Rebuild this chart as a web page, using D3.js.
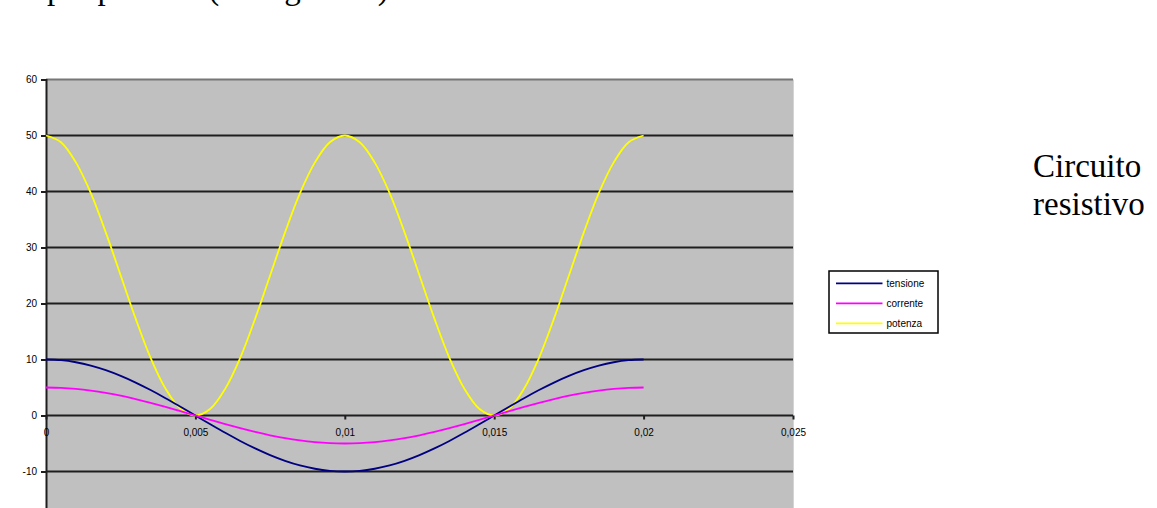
<!DOCTYPE html>
<html>
<head>
<meta charset="utf-8">
<script src="https://cdn.jsdelivr.net/npm/d3@7"></script>
<style>
  html, body { margin: 0; padding: 0; background: #fff; }
  svg { display: block; }
</style>
</head>
<body>
<svg id="chart" width="1157" height="508"></svg>
<script>
// ---- data ----
const tempo = [0, 0.0005, 0.001, 0.0015, 0.002, 0.0025, 0.003, 0.0035, 0.004, 0.0045,
  0.005, 0.0055, 0.006, 0.0065, 0.007, 0.0075, 0.008, 0.0085, 0.009, 0.0095,
  0.01, 0.0105, 0.011, 0.0115, 0.012, 0.0125, 0.013, 0.0135, 0.014, 0.0145,
  0.015, 0.0155, 0.016, 0.0165, 0.017, 0.0175, 0.018, 0.0185, 0.019, 0.0195, 0.02];
const tensione = [10, 9.88, 9.51, 8.91, 8.09, 7.07, 5.88, 4.54, 3.09, 1.56,
  0, -1.56, -3.09, -4.54, -5.88, -7.07, -8.09, -8.91, -9.51, -9.88,
  -10, -9.88, -9.51, -8.91, -8.09, -7.07, -5.88, -4.54, -3.09, -1.56,
  0, 1.56, 3.09, 4.54, 5.88, 7.07, 8.09, 8.91, 9.51, 9.88, 10];
const corrente = [5, 4.94, 4.76, 4.46, 4.05, 3.54, 2.94, 2.27, 1.55, 0.78,
  0, -0.78, -1.55, -2.27, -2.94, -3.54, -4.05, -4.46, -4.76, -4.94,
  -5, -4.94, -4.76, -4.46, -4.05, -3.54, -2.94, -2.27, -1.55, -0.78,
  0, 0.78, 1.55, 2.27, 2.94, 3.54, 4.05, 4.46, 4.76, 4.94, 5];
const potenza = [50, 48.8, 45.2, 39.7, 32.7, 25, 17.3, 10.3, 4.8, 1.2,
  0, 1.2, 4.8, 10.3, 17.3, 25, 32.7, 39.7, 45.2, 48.8,
  50, 48.8, 45.2, 39.7, 32.7, 25, 17.3, 10.3, 4.8, 1.2,
  0, 1.2, 4.8, 10.3, 17.3, 25, 32.7, 39.7, 45.2, 48.8, 50];
const seriesNames = ["tensione", "corrente", "potenza"];
const seriesColors = ["#000080", "#FF00FF", "#FFFF00"];
const yTicks = [-10, 0, 10, 20, 30, 40, 50, 60];
const xTicks = [0, 0.005, 0.01, 0.015, 0.02, 0.025];
const xTickLabels = ["0", "0,005", "0,01", "0,015", "0,02", "0,025"];
const sideTitle = ["Circuito", "resistivo"];
const topText = "per potenza (vedi grafico)";

// ---- layout ----
const svg = d3.select("#chart");
const L = 46, R = 793, T = 79.5, B = 527.5;
const x = d3.scaleLinear().domain([0, 0.025]).range([L, R]);
const y = d3.scaleLinear().domain([-20, 60]).range([B, T]);

// partially visible text line at very top (cut by the page edge, as in the reference)
svg.append("text").attr("x", 47).attr("y", -1.5)
  .attr("font-family", "'Liberation Serif', 'Times New Roman', serif")
  .attr("font-size", 33).attr("fill", "#000").text(topText);

// plot background
svg.append("rect").attr("x", L).attr("y", T).attr("width", R - L).attr("height", B - T)
  .attr("fill", "#C0C0C0");

// gridlines
svg.append("g").selectAll("line")
  .data([-20].concat(yTicks).filter(d => d !== 60 && d !== 0))
  .join("line")
  .attr("x1", L).attr("x2", R)
  .attr("y1", d => y(d)).attr("y2", d => y(d))
  .attr("stroke", "#1e1e1e").attr("stroke-width", 2);

// top and right borders
svg.append("line").attr("x1", L).attr("x2", R).attr("y1", T).attr("y2", T)
  .attr("stroke", "#777").attr("stroke-width", 2);
svg.append("line").attr("x1", R + 0.5).attr("x2", R + 0.5).attr("y1", T).attr("y2", B)
  .attr("stroke", "#d4d4d4").attr("stroke-width", 1);

// y axis
const yAxis = svg.append("g").attr("transform", `translate(${L},0)`)
  .call(d3.axisLeft(y).tickValues(yTicks).tickSize(5).tickPadding(4).tickFormat(d => String(d)));
yAxis.select(".domain").attr("stroke", "#1e1e1e").attr("stroke-width", 2);
yAxis.selectAll(".tick line").attr("stroke", "#1e1e1e").attr("stroke-width", 2);
yAxis.selectAll(".tick text").attr("font-family", "'Liberation Sans', Arial, sans-serif")
  .attr("font-size", 10).attr("fill", "#000");

// x axis at y = 0
const xAxis = svg.append("g").attr("transform", `translate(0,${y(0)})`)
  .call(d3.axisBottom(x).tickValues(xTicks).tickSize(4).tickFormat((d, i) => xTickLabels[i]));
xAxis.select(".domain").attr("stroke", "#1e1e1e").attr("stroke-width", 2)
  .attr("d", `M${L},0H${R}`);
xAxis.selectAll(".tick line").attr("stroke", "#1e1e1e").attr("stroke-width", 2);
xAxis.selectAll(".tick text").attr("font-family", "'Liberation Sans', Arial, sans-serif")
  .attr("font-size", 10).attr("fill", "#000").attr("y", 13);

// series lines
const allSeries = [tensione, corrente, potenza];
const line = d3.line().x((d, i) => x(tempo[i])).y(d => y(d)).curve(d3.curveCatmullRom.alpha(0.5));
const order = [2, 0, 1];
order.forEach(k => {
  svg.append("path").datum(allSeries[k])
    .attr("d", line).attr("fill", "none")
    .attr("stroke", seriesColors[k]).attr("stroke-width", 1.8)
    .attr("stroke-linejoin", "round");
});

// legend
const lg = svg.append("g");
lg.append("rect").attr("x", 829).attr("y", 271).attr("width", 109).attr("height", 62)
  .attr("fill", "#fff").attr("stroke", "#000").attr("stroke-width", 1.5);
seriesNames.forEach((n, i) => {
  const yy = 283.3 + i * 20;
  lg.append("line").attr("x1", 836).attr("x2", 882.5).attr("y1", yy).attr("y2", yy)
    .attr("stroke", seriesColors[i]).attr("stroke-width", 1.8);
  lg.append("text").attr("x", 886.5).attr("y", yy + 3.5)
    .attr("font-family", "'Liberation Sans', Arial, sans-serif").attr("font-size", 10)
    .attr("fill", "#000").text(n);
});

// side title
sideTitle.forEach((t, i) => {
  svg.append("text").attr("x", 1033).attr("y", 177 + i * 38)
    .attr("font-family", "'Liberation Serif', 'Times New Roman', serif")
    .attr("font-size", 33).attr("fill", "#000").text(t);
});
</script>
</body>
</html>
